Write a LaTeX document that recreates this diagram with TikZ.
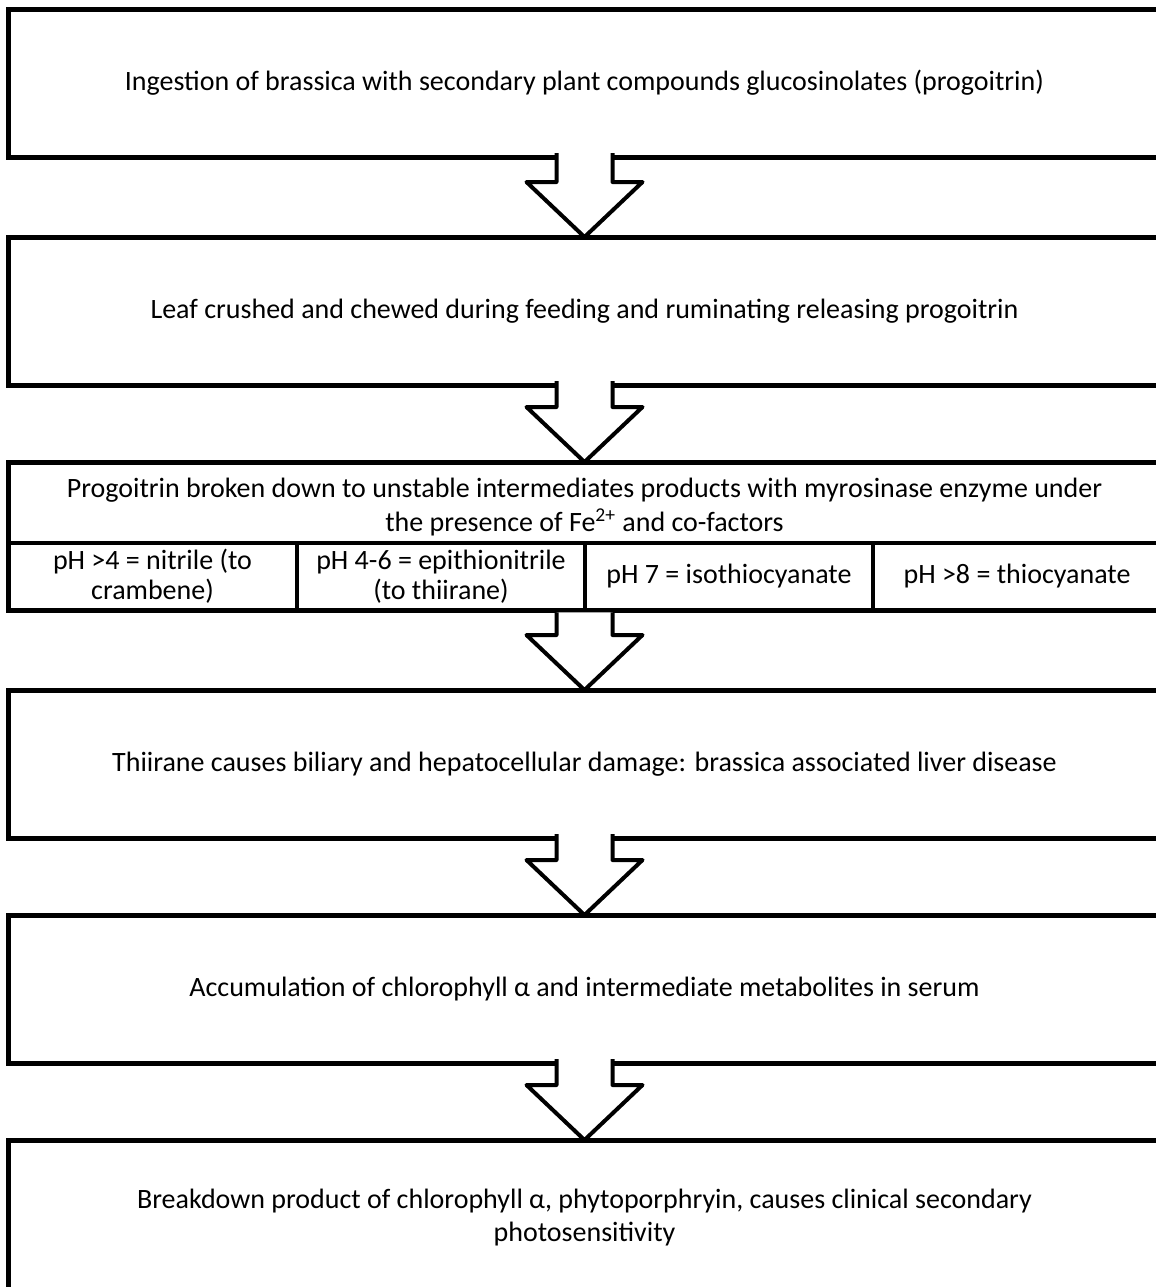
\documentclass[tikz,border=0pt]{standalone}
\usepackage{fontspec}
\setmainfont{Carlito}
\usetikzlibrary{positioning}

\tikzset{
	box/.style={draw, line width=2.5pt, outer sep=0pt, inner sep=0pt, minimum width=576.5pt, minimum height=74pt, align=center, font=\fontsize{14pt}{16.5pt}\selectfont},
	cell/.style={draw, line width=2pt, outer sep=0pt, inner sep=0pt, minimum width=144pt, minimum height=33.5pt, align=center, font=\fontsize{14pt}{15pt}\selectfont},
	blockarrow/.style={draw, fill=white, line width=2pt, line join=round}
}

\begin{document}
\begin{tikzpicture}[x=0.5pt,y=-0.5pt]
	\useasboundingbox (0,0) rectangle (1156,1287);
	\clip (0,0) rectangle (1156,1287);
	\node[box] (b1) at (584.5,83) {Ingestion of brassica with secondary plant compounds glucosinolates (progoitrin)};
	\node[box] (b2) at (584.5,311) {Leaf crushed and chewed during feeding and ruminating releasing progoitrin};
	\node[box] (b3) at (584.5,536) {};
	\node[box, draw=none, minimum height=40.5pt, font=\fontsize{14pt}{17pt}\selectfont] (b3txt) at (584.5,507) {Progoitrin broken down to unstable intermediates products with myrosinase enzyme under\\the presence of Fe\textsuperscript{2+} and co-factors};
	\node[cell] (ph1) at (152.5,576.5) {pH >4 = nitrile (to\\crambene)};
	\node[cell] (ph2) at (441,576.5) {pH 4-6 = epithionitrile\\(to thiirane)};
	\node[cell] (ph3) at (729,576.5) {pH 7 = isothiocyanate};
	\node[cell] (ph4) at (1017,576.5) {pH >8 = thiocyanate};
	\node[box] (b4) at (584.5,764) {Thiirane causes biliary and hepatocellular damage: brassica associated liver disease};
	\node[box] (b5) at (584.5,989) {Accumulation of chlorophyll α and intermediate metabolites in serum};
	\node[box, minimum height=78pt] (b6) at (584.5,1218) {Breakdown product of chlorophyll α, phytoporphryin, causes clinical secondary\\photosensitivity};
	% open block arrows between the boxes (the one under the pH row keeps its line)
	\foreach \a/\b/\s in {b1/b2/2pt,b2/b3/2pt,b3/b4/-1.2pt,b4/b5/2pt,b5/b6/2pt}
		\draw[blockarrow] ([xshift=-14pt,yshift=\s]\a.south) -- ([xshift=-14pt,yshift=27.5pt]\b.north)
			-- ([xshift=-29pt,yshift=27.5pt]\b.north) -- (\b.north)
			-- ([xshift=29pt,yshift=27.5pt]\b.north) -- ([xshift=14pt,yshift=27.5pt]\b.north)
			-- ([xshift=14pt,yshift=\s]\a.south);
\end{tikzpicture}
\end{document}
